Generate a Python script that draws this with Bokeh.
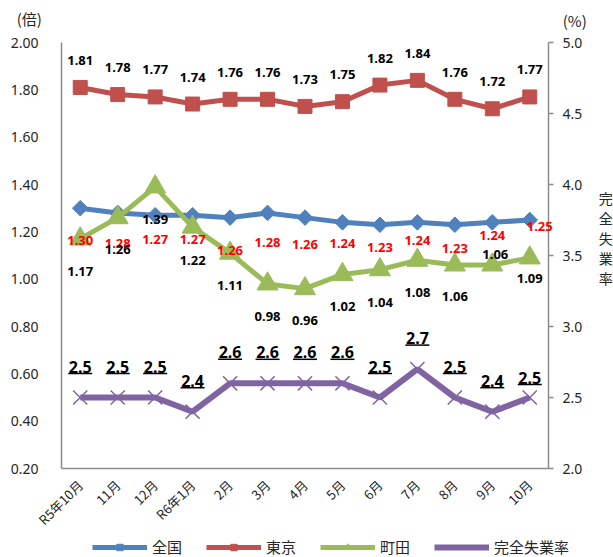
from bokeh.plotting import figure
from bokeh.models import (Range1d, LinearAxis, FixedTicker, NumeralTickFormatter,
                          ColumnDataSource, LabelSet, Legend, LegendItem)
from bokeh.core.properties import value
from bokeh.embed import file_html
from bokeh.resources import INLINE

# ---------------- data ----------------
months = ["R5年10月", "11月", "12月", "R6年1月", "2月", "3月", "4月",
          "5月", "6月", "7月", "8月", "9月", "10月"]
zenkoku = [1.30, 1.28, 1.27, 1.27, 1.26, 1.28, 1.26, 1.24, 1.23, 1.24, 1.23, 1.24, 1.25]
tokyo = [1.81, 1.78, 1.77, 1.74, 1.76, 1.76, 1.73, 1.75, 1.82, 1.84, 1.76, 1.72, 1.77]
machida = [1.17, 1.26, 1.39, 1.22, 1.11, 0.98, 0.96, 1.02, 1.04, 1.08, 1.06, 1.06, 1.09]
unemp = [2.5, 2.5, 2.5, 2.4, 2.6, 2.6, 2.6, 2.6, 2.5, 2.7, 2.5, 2.4, 2.5]
left_ticks = [0.2, 0.4, 0.6, 0.8, 1.0, 1.2, 1.4, 1.6, 1.8, 2.0]
right_ticks = [2.0, 2.5, 3.0, 3.5, 4.0, 4.5, 5.0]
series_names = ["全国", "東京", "町田", "完全失業率"]

# ---------------- styles / layout ----------------
C_BLUE, C_RED, C_GREEN, C_PURPLE = "#4F81BD", "#C0504D", "#9BBB59", "#8064A2"
NUM_FONT = "Noto Sans"
JP_FONT = "Noto Sans CJK JP"
AX_COL = "#8C8C8C"
TXT_COL = "#262626"

W, H = 613, 557                    # canvas
PL, PR, PT, PB = 61, 548, 42, 468  # plot area edges (px)

# label offsets in px (positive = up / right)
z_dy = [-32, -31, -24, -24, -33, -30, -27, -21, -23, -18, -24, -13, -6]
z_dx = [0] * 12 + [10]
t_dy = [27] * 13
m_dy = [-33, -32, -33, -33, -32, -33, -32, -32, -33, -32, -32, 10, -21]
m_dx = [0] * 11 + [3, 0]
u_dy = [31] * 12 + [20]

N = len(months)
xs = list(range(N))
cat_w = (PR - PL) / N
L_LO, L_HI = left_ticks[0], left_ticks[-1]
R_LO, R_HI = right_ticks[0], right_ticks[-1]
ppu_l = (PB - PT) / (L_HI - L_LO)
ppu_r = (PB - PT) / (R_HI - R_LO)

p = figure(x_range=Range1d(-0.5 - PL / cat_w, -0.5 + (W - PL) / cat_w),
           y_range=Range1d(L_LO - (H - PB) / ppu_l, L_HI + PT / ppu_l),
           frame_width=W, frame_height=H,
           min_border_left=0, min_border_top=0, min_border_right=0, min_border_bottom=0,
           y_axis_location=None, x_axis_location=None,
           output_backend="svg", toolbar_location=None)
p.extra_y_ranges = {"rate": Range1d(R_LO - (H - PB) / ppu_r, R_HI + PT / ppu_r)}
p.outline_line_color = None
p.background_fill_color = "white"
p.border_fill_color = "white"
for g in p.grid:
    g.visible = False


def style_axis(ax, font, size, standoff):
    ax.axis_line_color = AX_COL
    ax.axis_line_width = 1.5
    ax.major_tick_line_color = None
    ax.minor_tick_line_color = None
    ax.major_label_standoff = standoff
    ax.major_label_text_font = font
    ax.major_label_text_font_size = size
    ax.major_label_text_color = TXT_COL


# left axis
ya = LinearAxis(fixed_location=-0.5, bounds=(L_LO, L_HI), ticker=FixedTicker(ticks=left_ticks),
                formatter=NumeralTickFormatter(format="0.00"))
style_axis(ya, NUM_FONT, "14px", 17)
p.add_layout(ya, "left")

# right axis
ra = LinearAxis(y_range_name="rate", fixed_location=N - 0.5, bounds=(R_LO, R_HI),
                ticker=FixedTicker(ticks=right_ticks), formatter=NumeralTickFormatter(format="0.0"))
style_axis(ra, NUM_FONT, "14px", 9)
ra.major_tick_line_color = AX_COL
ra.major_tick_line_width = 1.5
ra.major_tick_out = 5
ra.major_tick_in = 0
p.add_layout(ra, "right")

# bottom axis
xa = LinearAxis(fixed_location=L_LO, bounds=(-0.5, N - 0.5), ticker=FixedTicker(ticks=xs))
xa.major_label_overrides = {i: m for i, m in zip(xs, months)}
style_axis(xa, JP_FONT, "13px", 8)
xa.major_label_orientation = 0.785398
p.add_layout(xa, "below")

# series
bl = p.line(xs, zenkoku, color=C_BLUE, line_width=5)
p.scatter(xs, zenkoku, marker="square", angle=0.785398, size=11, color=C_BLUE)
rl = p.line(xs, tokyo, color=C_RED, line_width=5)
p.scatter(xs, tokyo, marker="square", size=14, color=C_RED)
gl = p.line(xs, machida, color=C_GREEN, line_width=5)
p.scatter(xs, machida, marker="triangle", size=21, color=C_GREEN)
pl = p.line(xs, unemp, color=C_PURPLE, line_width=6, y_range_name="rate")
p.scatter(xs, unemp, marker="x", size=20, line_width=1.5, color=C_PURPLE, y_range_name="rate")

# legend-only small markers (no visible data point)
nan_src = lambda: ColumnDataSource(dict(x=[xs[0]], y=[float("nan")]))
lm_b = p.scatter("x", "y", source=nan_src(), marker="square", angle=0.785398, size=6, color=C_BLUE)
lm_r = p.scatter("x", "y", source=nan_src(), marker="square", size=8, color=C_RED)
lm_g = p.scatter("x", "y", source=nan_src(), marker="triangle", size=9, color=C_GREEN)
lm_p = p.scatter("x", "y", source=nan_src(), marker="x", size=8, line_width=1.5, color=C_PURPLE)

# underline for unemployment labels
u_y = [v + (d - 7) / ppu_r for v, d in zip(unemp, u_dy)]
p.scatter(xs, u_y, marker="dash", size=24, line_width=1.5, color="black", y_range_name="rate")


def labels(lx, vals, texts, dy, dx, color, size, font=NUM_FONT, style="bold",
           range_name="default", line_height=1.2):
    src = ColumnDataSource(dict(x=lx, y=vals, t=texts, dy=dy, dx=dx))
    ls = LabelSet(x="x", y="y", text="t", source=src, x_offset="dx", y_offset="dy",
                  text_align="center", text_baseline="middle", text_color=color,
                  text_font=value(font), text_font_style=style, text_font_size=size,
                  text_line_height=line_height, y_range_name=range_name)
    p.add_layout(ls)


labels(xs, zenkoku, [f"{v:.2f}" for v in zenkoku], z_dy, z_dx, "#FF0000", "13px")
labels(xs, tokyo, [f"{v:.2f}" for v in tokyo], t_dy, [0] * N, "black", "13px")
labels(xs, machida, [f"{v:.2f}" for v in machida], m_dy, m_dx, "black", "13px")
labels(xs, unemp, [f"{v:.1f}" for v in unemp], u_dy, [0] * N, "black", "16px", range_name="rate")

# axis headers
labels([xs[0]], [L_HI], ["(倍)"], [24], [-51], TXT_COL, "15px", font=JP_FONT, style="normal")
labels([xs[-1]], [R_HI], ["(%)"], [22], [45], TXT_COL, "15px", font=JP_FONT, style="normal",
       range_name="rate")
labels([xs[-1]], [(R_LO + R_HI) / 2], ["\n".join(series_names[3])], [18], [76], TXT_COL, "14px",
       font=JP_FONT, style="normal", range_name="rate", line_height=1.0)

legend = Legend(items=[
    LegendItem(label=series_names[0], renderers=[bl, lm_b]),
    LegendItem(label=series_names[1], renderers=[rl, lm_r]),
    LegendItem(label=series_names[2], renderers=[gl, lm_g]),
    LegendItem(label=series_names[3], renderers=[pl, lm_p]),
], orientation="horizontal", location=(92, 0), glyph_width=55, glyph_height=16,
    label_standoff=5, spacing=24, padding=0, margin=0, border_line_color=None,
    background_fill_alpha=0, label_text_font=JP_FONT, label_text_font_size="15px",
    label_text_color=TXT_COL)
p.add_layout(legend)

open("out.html", "w").write(file_html(p, INLINE))
